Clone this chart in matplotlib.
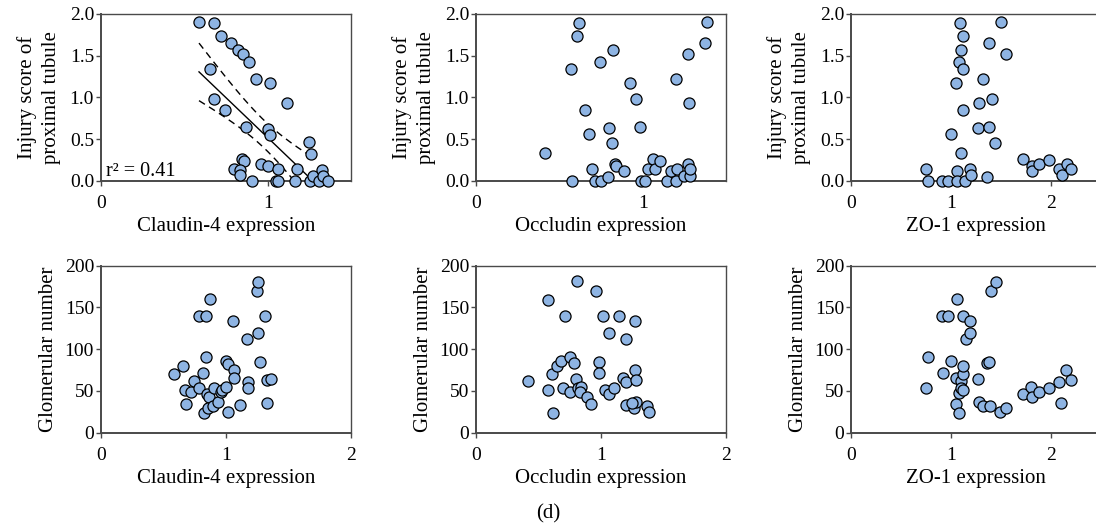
import numpy as np
import matplotlib
matplotlib.use('Agg')
import matplotlib.pyplot as plt

plt.rcParams['font.family'] = ['Liberation Serif', 'DejaVu Serif']

# --- data --------------------------------------------------------------
# injury score of proximal tubule vs. expression
cld_inj_x = [0.588, 0.68, 0.718, 0.78, 0.82, 0.854, 0.89, 0.932, 1.015, 1.117,
             0.653, 0.675, 0.745, 0.869, 1.003, 1.014, 1.25, 1.259, 0.848, 0.858,
             0.797, 0.833, 0.835, 0.908, 0.962, 1.001, 1.064, 1.048, 1.062, 1.175,
             1.162, 1.254, 1.272, 1.328, 1.308, 1.33, 1.364]
cld_inj_y = [1.904, 1.896, 1.74, 1.652, 1.572, 1.524, 1.42, 1.223, 1.171, 0.939,
             1.34, 0.981, 0.851, 0.651, 0.626, 0.556, 0.462, 0.328, 0.264, 0.244,
             0.142, 0.126, 0.068, 0.0, 0.2, 0.18, 0.14, 0.0, 0.0, 0.14,
             0.0, 0.0, 0.056, 0.132, 0.0, 0.056, 0.0]

occ_inj_x = [0.572, 0.606, 0.62, 0.656, 0.68, 0.746, 0.796, 0.82, 0.814, 0.922,
             0.96, 0.986, 1.386, 1.374, 1.27, 1.2, 1.28, 0.416, 0.574, 0.696,
             0.713, 0.748, 0.789, 0.836, 0.84, 0.89, 0.988, 1.016, 1.033, 1.061,
             1.071, 1.104, 1.146, 1.17, 1.206, 1.2, 1.246, 1.272, 1.284, 1.286]
occ_inj_y = [1.344, 1.74, 1.896, 0.852, 0.557, 1.42, 0.632, 1.572, 0.46, 1.168,
             0.98, 0.652, 1.908, 1.652, 1.524, 1.22, 0.94, 0.332, 0.0, 0.14,
             0.0, 0.0, 0.052, 0.202, 0.18, 0.124, 0.0, 0.0, 0.142, 0.264,
             0.142, 0.244, 0.0, 0.124, 0.142, 0.0, 0.064, 0.202, 0.064, 0.142]

zo_inj_x = [1.085, 1.122, 1.095, 1.082, 1.122, 1.052, 1.122, 0.995, 1.1, 1.497,
            1.38, 1.554, 1.323, 1.407, 1.28, 1.273, 1.38, 1.442, 0.752, 0.767,
            0.911, 0.97, 1.063, 1.063, 1.14, 1.192, 1.196, 1.364, 1.717, 1.806,
            1.809, 1.883, 1.983, 2.084, 2.107, 2.157, 2.2]
zo_inj_y = [1.896, 1.74, 1.572, 1.42, 1.344, 1.168, 0.852, 0.557, 0.332, 1.908,
            1.652, 1.524, 1.22, 0.98, 0.94, 0.632, 0.652, 0.46, 0.14, 0.0,
            0.0, 0.0, 0.124, 0.0, 0.0, 0.14, 0.068, 0.052, 0.264, 0.18,
            0.124, 0.202, 0.248, 0.142, 0.068, 0.202, 0.142]

# glomerular number vs. expression
cld_glo_x = [0.58, 0.653, 0.672, 0.68, 0.717, 0.747, 0.782, 0.816, 0.838, 0.784,
             0.837, 0.872, 0.845, 0.862, 0.822, 0.852, 0.892, 0.907, 0.936, 0.956,
             0.965, 1.002, 1.0, 1.016, 1.061, 1.061, 1.013, 1.053, 1.112, 1.165,
             1.173, 1.173, 1.253, 1.245, 1.253, 1.312, 1.27, 1.325, 1.362, 1.325]
cld_glo_y = [70, 80, 51, 34, 49, 62, 54, 71, 91, 139,
             139, 160, 46, 43, 24, 30, 32, 54, 37, 49,
             51, 55, 86, 82, 75, 65, 25, 134, 33, 112,
             61, 53, 119, 170, 180, 139, 84, 63, 64, 35]

occ_glo_x = [0.418, 0.572, 0.572, 0.604, 0.617, 0.65, 0.677, 0.697, 0.71, 0.75,
             0.75, 0.785, 0.797, 0.811, 0.816, 0.838, 0.835, 0.888, 0.92, 0.957,
             0.983, 0.984, 1.016, 1.032, 1.062, 1.061, 1.101, 1.144, 1.173, 1.197,
             1.202, 1.197, 1.274, 1.269, 1.282, 1.263, 1.28, 1.246, 1.367, 1.386]
occ_glo_y = [62, 51, 159, 70, 24, 80, 86, 54, 139, 91,
             49, 83, 64, 181, 54, 55, 49, 43, 34, 170,
             84, 71, 139, 51, 119, 46, 53, 139, 65, 112,
             61, 33, 134, 75, 63, 30, 37, 36, 32, 25]

zo_glo_x = [0.747, 0.767, 0.918, 0.911, 0.972, 0.995, 1.062, 1.05, 1.052, 1.079,
            1.076, 1.095, 1.1, 1.119, 1.115, 1.122, 1.122, 1.146, 1.189, 1.193,
            1.27, 1.277, 1.322, 1.364, 1.384, 1.387, 1.404, 1.447, 1.487, 1.554,
            1.715, 1.799, 1.809, 1.876, 1.98, 2.084, 2.104, 2.151, 2.198]
zo_glo_y = [54, 91, 71, 139, 139, 86, 160, 65, 34, 24,
            48, 62, 54, 70, 80, 51, 139, 112, 134, 119,
            64, 37, 32, 83, 84, 32, 170, 180, 25, 30,
            46, 55, 43, 49, 53, 61, 35, 75, 63]

# regression line drawn on the claudin-4 / injury panel
fit_slope = -1.91
fit_intercept = 2.43

x_labels = ['Claudin-4 expression', 'Occludin expression', 'ZO-1 expression']
inj_label = 'Injury score of\nproximal tubule'
glo_label = 'Glomerular number'
r2_text = 'r\u00b2 = 0.41'
panel_tag = '(d)'

T95 = 2.03  # two-sided 95% t value, df ~ 35

# --- layout --------------------------------------------------------------
W, H = 1096, 529
fig = plt.figure(figsize=(W / 100, H / 100), dpi=100)

lefts = [101, 476, 851]
aw = 250
rows = [(14, 181), (265.5, 432.7)]

FACE = '#8EB4E3'
SPINE = '#4a4a4a'


def make_ax(col, row):
    top, bot = rows[row]
    ax = fig.add_axes([lefts[col] / W, 1 - bot / H, aw / W, (bot - top) / H])
    for sp in ax.spines.values():
        sp.set_color(SPINE)
        sp.set_linewidth(1.0)
    ax.spines['left'].set_linewidth(1.4)
    ax.spines['bottom'].set_linewidth(1.4)
    ax.tick_params(direction='out', length=3.5, width=1.0, color=SPINE,
                   labelsize=14)
    ax.tick_params(axis='x', pad=6.5)
    ax.tick_params(axis='y', pad=1.5)
    return ax


def dots(ax, x, y):
    ax.scatter(x, y, s=64, facecolor=FACE, edgecolor='black', linewidth=0.9,
               zorder=3, clip_on=False)


top_sets = [(cld_inj_x, cld_inj_y), (occ_inj_x, occ_inj_y), (zo_inj_x, zo_inj_y)]
bot_sets = [(cld_glo_x, cld_glo_y), (occ_glo_x, occ_glo_y), (zo_glo_x, zo_glo_y)]
top_xlim = [1.5, 1.5, 2.5]
bot_xlim = [2.0, 2.0, 2.5]

for i in range(3):
    # top row: injury score
    ax = make_ax(i, 0)
    x, y = top_sets[i]
    dots(ax, x, y)
    ax.set_xlim(0, top_xlim[i])
    ax.set_ylim(0, 2.0)
    ax.set_xticks(np.arange(0, int(top_xlim[i]) + 1))
    ax.set_yticks([0.0, 0.5, 1.0, 1.5, 2.0])
    ax.set_yticklabels(['%.1f' % v for v in [0.0, 0.5, 1.0, 1.5, 2.0]])
    ax.set_xlabel(x_labels[i], fontsize=15, labelpad=4)
    ax.set_ylabel(inj_label, fontsize=15, linespacing=1.35, labelpad=6)

    if i == 0:
        # fitted line with 95% confidence band of the mean
        xa = np.array(x)
        ya = np.array(y)
        n = len(xa)
        xx = np.linspace(xa.min(), -fit_intercept / fit_slope, 200)
        yhat = fit_intercept + fit_slope * xx
        resid = ya - (fit_intercept + fit_slope * xa)
        s = np.sqrt(np.sum(resid ** 2) / (n - 2))
        sxx = np.sum((xa - xa.mean()) ** 2)
        band = T95 * s * np.sqrt(1.0 / n + (xx - xa.mean()) ** 2 / sxx)
        ax.plot(xx, yhat, color='black', lw=1.0, zorder=2)
        ax.plot(xx, yhat + band, color='black', lw=1.0, ls=(0, (5, 3.5)), zorder=2)
        ax.plot(xx, yhat - band, color='black', lw=1.0, ls=(0, (5, 3.5)), zorder=2)
        ax.text(0.02, 0.0, r2_text, transform=ax.transAxes, fontsize=14.5,
                ha='left', va='bottom')

    # bottom row: glomerular number
    ax = make_ax(i, 1)
    x, y = bot_sets[i]
    dots(ax, x, y)
    ax.set_xlim(0, bot_xlim[i])
    ax.set_ylim(0, 200)
    ax.set_xticks([0, 1, 2])
    ax.set_yticks([0, 50, 100, 150, 200])
    ax.set_xlabel(x_labels[i], fontsize=15, labelpad=4)
    ax.set_ylabel(glo_label, fontsize=15, labelpad=5)

fig.text(548 / W, 1 - 514 / H, panel_tag, fontsize=15, ha='center', va='center')

fig.savefig('out.png', dpi=100)
